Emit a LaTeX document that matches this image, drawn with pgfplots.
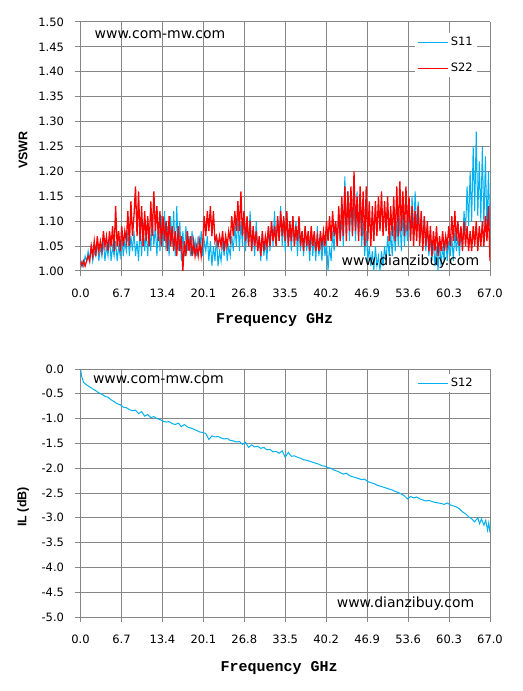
\documentclass[border=0pt]{standalone}
\usepackage{pgfplots}
\pgfplotsset{compat=1.18}
\usepackage{pgfplotstable}
\usepackage{fontspec}
\setmainfont{DejaVu Sans}
\newfontfamily\monob{Liberation Mono}
\newfontfamily\labf{Liberation Sans}
\definecolor{sblue}{RGB}{0,176,240}
\definecolor{sred}{RGB}{255,0,0}
\definecolor{gridg}{RGB}{134,134,134}

\pgfplotstableread{
x s11 s22
0.00 1.01 1.02
0.25 1.02 1.01
0.50 1.01 1.02
0.75 1.03 1.01
1.00 1.02 1.02
1.25 1.04 1.03
1.50 1.02 1.02
1.75 1.05 1.05
2.00 1.02 1.03
2.25 1.04 1.06
2.50 1.03 1.03
2.75 1.06 1.07
3.00 1.02 1.04
3.25 1.05 1.06
3.50 1.03 1.04
3.75 1.06 1.08
4.00 1.02 1.05
4.25 1.05 1.07
4.50 1.03 1.04
4.75 1.07 1.08
5.00 1.02 1.05
5.25 1.05 1.09
5.50 1.03 1.04
5.75 1.06 1.13
6.00 1.02 1.05
6.25 1.05 1.08
6.50 1.03 1.04
6.75 1.07 1.09
7.00 1.03 1.05
7.25 1.06 1.08
7.50 1.04 1.06
7.75 1.08 1.12
8.00 1.03 1.05
8.25 1.07 1.14
8.50 1.04 1.07
8.75 1.08 1.11
9.00 1.03 1.17
9.25 1.06 1.07
9.50 1.02 1.16
9.75 1.09 1.06
10.00 1.03 1.13
10.25 1.10 1.05
10.50 1.04 1.12
10.75 1.08 1.06
11.00 1.03 1.11
11.25 1.09 1.05
11.50 1.04 1.14
11.75 1.11 1.07
12.00 1.05 1.16
12.25 1.09 1.08
12.50 1.03 1.13
12.75 1.10 1.06
13.00 1.04 1.12
13.25 1.11 1.05
13.50 1.05 1.11
13.75 1.12 1.06
14.00 1.04 1.10
14.25 1.09 1.04
14.50 1.03 1.11
14.75 1.11 1.05
15.00 1.05 1.09
15.25 1.12 1.04
15.50 1.03 1.08
15.75 1.13 1.03
16.00 1.04 1.09
16.25 1.10 1.04
16.50 1.02 1.07
16.75 1.08 1.00
17.00 1.03 1.06
17.25 1.09 1.03
17.50 1.04 1.08
17.75 1.07 1.04
18.00 1.03 1.07
18.25 1.08 1.03
18.50 1.04 1.06
18.75 1.06 1.03
19.00 1.03 1.05
19.25 1.07 1.03
19.50 1.04 1.06
19.75 1.08 1.03
20.00 1.03 1.06
20.25 1.06 1.11
20.50 1.04 1.07
20.75 1.07 1.12
21.00 1.02 1.08
21.25 1.06 1.13
21.50 1.01 1.07
21.75 1.05 1.12
22.00 1.02 1.06
22.25 1.07 1.07
22.50 1.01 1.05
22.75 1.04 1.07
23.00 1.02 1.05
23.25 1.06 1.08
23.50 1.03 1.04
23.75 1.07 1.07
24.00 1.02 1.05
24.25 1.05 1.08
24.50 1.03 1.06
24.75 1.07 1.11
25.00 1.04 1.07
25.25 1.09 1.12
25.50 1.05 1.08
25.75 1.11 1.14
26.00 1.04 1.08
26.25 1.10 1.16
26.50 1.05 1.07
26.75 1.12 1.12
27.00 1.04 1.06
27.25 1.09 1.11
27.50 1.05 1.05
27.75 1.12 1.10
28.00 1.04 1.04
28.25 1.08 1.09
28.50 1.03 1.05
28.75 1.10 1.08
29.00 1.04 1.04
29.25 1.07 1.07
29.50 1.02 1.03
29.75 1.08 1.08
30.00 1.03 1.04
30.25 1.06 1.07
30.50 1.02 1.05
30.75 1.09 1.09
31.00 1.04 1.05
31.25 1.10 1.10
31.50 1.05 1.06
31.75 1.12 1.09
32.00 1.05 1.05
32.25 1.11 1.11
32.50 1.06 1.06
32.75 1.13 1.12
33.00 1.05 1.07
33.25 1.10 1.11
33.50 1.04 1.06
33.75 1.12 1.12
34.00 1.05 1.05
34.25 1.09 1.10
34.50 1.04 1.06
34.75 1.11 1.11
35.00 1.05 1.05
35.25 1.10 1.09
35.50 1.03 1.06
35.75 1.09 1.11
36.00 1.04 1.05
36.25 1.08 1.08
36.50 1.03 1.04
36.75 1.09 1.09
37.00 1.04 1.05
37.25 1.07 1.08
37.50 1.02 1.04
37.75 1.08 1.09
38.00 1.03 1.05
38.25 1.07 1.08
38.50 1.02 1.04
38.75 1.09 1.07
39.00 1.03 1.04
39.25 1.06 1.08
39.50 1.02 1.05
39.75 1.07 1.08
40.00 1.03 1.05
40.25 1.06 1.10
40.50 1.00 1.06
40.75 1.05 1.11
41.00 1.02 1.06
41.25 1.08 1.12
41.50 1.04 1.07
41.75 1.10 1.10
42.00 1.05 1.05
42.25 1.12 1.13
42.50 1.06 1.06
42.75 1.11 1.15
43.00 1.05 1.07
43.25 1.19 1.17
43.50 1.07 1.06
43.75 1.16 1.16
44.00 1.06 1.08
44.25 1.15 1.17
44.50 1.07 1.07
44.75 1.14 1.20
45.00 1.06 1.08
45.25 1.16 1.15
45.50 1.07 1.06
45.75 1.13 1.17
46.00 1.05 1.07
46.25 1.10 1.16
46.50 1.03 1.05
46.75 1.08 1.17
47.00 1.02 1.06
47.25 1.05 1.14
47.50 1.01 1.05
47.75 1.04 1.13
48.00 1.00 1.06
48.25 1.05 1.14
48.50 1.01 1.07
48.75 1.03 1.15
49.00 1.00 1.08
49.25 1.04 1.16
49.50 1.01 1.07
49.75 1.05 1.14
50.00 1.02 1.08
50.25 1.07 1.15
50.50 1.03 1.06
50.75 1.08 1.13
51.00 1.03 1.07
51.25 1.09 1.15
51.50 1.04 1.06
51.75 1.10 1.17
52.00 1.05 1.07
52.25 1.11 1.18
52.50 1.04 1.08
52.75 1.12 1.16
53.00 1.05 1.07
53.25 1.10 1.17
53.50 1.06 1.08
53.75 1.13 1.15
54.00 1.06 1.06
54.25 1.15 1.13
54.50 1.07 1.05
54.75 1.16 1.12
55.00 1.08 1.06
55.25 1.14 1.13
55.50 1.06 1.05
55.75 1.12 1.12
56.00 1.05 1.04
56.25 1.11 1.11
56.50 1.04 1.05
56.75 1.09 1.10
57.00 1.03 1.04
57.25 1.07 1.09
57.50 1.02 1.03
57.75 1.06 1.08
58.00 1.01 1.04
58.25 1.05 1.09
58.50 1.00 1.03
58.75 1.06 1.07
59.00 1.01 1.04
59.25 1.05 1.08
59.50 1.02 1.04
59.75 1.07 1.07
60.00 1.02 1.05
60.25 1.06 1.09
60.50 1.03 1.05
60.75 1.07 1.11
61.00 1.02 1.06
61.25 1.08 1.12
61.50 1.04 1.06
61.75 1.07 1.10
62.00 1.03 1.05
62.25 1.08 1.09
62.50 1.05 1.04
62.75 1.12 1.10
63.00 1.08 1.05
63.25 1.17 1.09
63.50 1.09 1.04
63.75 1.20 1.08
64.00 1.10 1.04
64.25 1.25 1.09
64.50 1.12 1.05
64.75 1.28 1.10
65.00 1.11 1.04
65.25 1.22 1.09
65.50 1.10 1.05
65.75 1.25 1.10
66.00 1.09 1.05
66.25 1.23 1.11
66.50 1.08 1.06
66.75 1.20 1.13
67.00 1.07 1.02
}\vswr

\pgfplotstableread{
x s12
0.0 0.00
0.2 -0.15
0.5 -0.27
1.0 -0.32
1.5 -0.36
2.0 -0.40
2.5 -0.44
3.0 -0.48
3.5 -0.51
4.0 -0.55
4.5 -0.57
5.0 -0.62
5.5 -0.66
6.0 -0.70
6.5 -0.72
7.0 -0.77
7.5 -0.78
8.0 -0.82
8.5 -0.84
9.0 -0.83
9.5 -0.90
10.0 -0.86
10.5 -0.95
11.0 -0.92
11.5 -0.98
12.0 -0.96
12.5 -1.00
13.0 -1.02
13.5 -1.05
14.0 -1.07
14.5 -1.06
15.0 -1.10
15.5 -1.12
16.0 -1.09
16.5 -1.16
17.0 -1.12
17.5 -1.17
18.0 -1.19
18.5 -1.21
19.0 -1.24
19.5 -1.27
20.0 -1.28
20.5 -1.30
21.0 -1.42
21.5 -1.35
22.0 -1.37
22.5 -1.36
23.0 -1.39
23.5 -1.41
24.0 -1.40
24.5 -1.44
25.0 -1.45
25.5 -1.47
26.0 -1.46
26.5 -1.52
27.0 -1.48
27.5 -1.58
28.0 -1.53
28.5 -1.57
29.0 -1.56
29.5 -1.60
30.0 -1.58
30.5 -1.63
31.0 -1.62
31.5 -1.67
32.0 -1.66
32.5 -1.70
33.0 -1.65
33.5 -1.78
34.0 -1.68
34.5 -1.76
35.0 -1.75
35.5 -1.78
36.0 -1.80
36.5 -1.83
37.0 -1.84
37.5 -1.86
38.0 -1.88
38.5 -1.90
39.0 -1.92
39.5 -1.95
40.0 -1.96
40.5 -1.99
41.0 -2.00
41.5 -2.04
42.0 -2.06
42.5 -2.09
43.0 -2.12
43.5 -2.10
44.0 -2.15
44.5 -2.17
45.0 -2.19
45.5 -2.21
46.0 -2.23
46.5 -2.22
47.0 -2.27
47.5 -2.29
48.0 -2.31
48.5 -2.34
49.0 -2.36
49.5 -2.38
50.0 -2.40
50.5 -2.42
51.0 -2.44
51.5 -2.47
52.0 -2.49
52.5 -2.52
53.0 -2.56
53.5 -2.62
54.0 -2.57
54.5 -2.60
55.0 -2.58
55.5 -2.62
56.0 -2.64
56.5 -2.66
57.0 -2.65
57.5 -2.67
58.0 -2.69
58.5 -2.70
59.0 -2.71
59.5 -2.73
60.0 -2.70
60.5 -2.74
61.0 -2.76
61.5 -2.78
62.0 -2.82
62.5 -2.88
63.0 -2.92
63.5 -2.98
64.0 -3.02
64.5 -3.08
65.0 -3.00
65.3 -3.12
65.6 -3.02
66.0 -3.15
66.3 -3.05
66.6 -3.25
66.8 -3.10
67.0 -3.30
}\ilt

\pgfplotsset{
  common/.style={
    scale only axis, width=409.5bp,
    xmin=0, xmax=67,
    xtick={0,6.7,13.4,20.1,26.8,33.5,40.2,46.9,53.6,60.3,67},
    xticklabels={0.0,6.7,13.4,20.1,26.8,33.5,40.2,46.9,53.6,60.3,67.0},
    axis x line*=bottom, axis y line*=left,
    axis line style={gridg, line width=1bp, -},
    grid=major, grid style={gridg, line width=1bp},
    tick style={gridg, line width=1bp},
    tick align=outside, major tick length=5bp,
    ticklabel style={font=\fontsize{11.5bp}{13bp}\selectfont, text=black},
    xticklabel shift=9bp, yticklabel shift=8bp,
    xlabel={Frequency GHz},
    xlabel style={font=\monob\bfseries\fontsize{15bp}{17bp}\selectfont, anchor=center},
    ylabel style={font=\labf\bfseries\fontsize{12.5bp}{14bp}\selectfont, anchor=center},
    legend cell align=left,
    legend image code/.code={\draw[#1] (0bp,0bp) -- (30bp,0bp);},
    legend style={draw=none, fill=white, font=\fontsize{11.5bp}{13bp}\selectfont,
      inner sep=2bp, row sep=12bp},
  }
}

\begin{document}
\begin{tikzpicture}
\path[use as bounding box] (0,0) rectangle (523bp,691bp);

\begin{axis}[common,
  at={(80.5bp,420bp)}, anchor=south west,
  height=249bp,
  ymin=1, ymax=1.5,
  ytick={1,1.05,1.1,1.15,1.2,1.25,1.3,1.35,1.4,1.45,1.5},
  yticklabels={1.00,1.05,1.10,1.15,1.20,1.25,1.30,1.35,1.40,1.45,1.50},
  ylabel={VSWR},
  ylabel style={at={(axis description cs:-0.14,0.486)}},
  xlabel style={at={(axis description cs:0.474,-0.196)}},
  legend style={at={(axis description cs:0.968,0.955)}, anchor=north east},
]
\addplot[color=sblue, line width=1bp] table[x=x, y=s11] {\vswr};
\addlegendentry{S11}
\addplot[color=sred, line width=1.3bp] table[x=x, y=s22] {\vswr};
\addlegendentry{S22}
\node[anchor=west, font=\fontsize{14bp}{16bp}\selectfont] at (axis description cs:0.026,0.948) {www.com-mw.com};
\node[anchor=east, font=\fontsize{14bp}{16bp}\selectfont] at (axis description cs:0.982,0.036) {www.dianzibuy.com};
\end{axis}

\begin{axis}[common,
  at={(80.5bp,74bp)}, anchor=south west,
  height=248bp,
  ymin=-5, ymax=0,
  ytick={-5,-4.5,-4,-3.5,-3,-2.5,-2,-1.5,-1,-0.5,0},
  yticklabels={-5.0,-4.5,-4.0,-3.5,-3.0,-2.5,-2.0,-1.5,-1.0,-0.5,0.0},
  ylabel={IL (dB)},
  ylabel style={at={(axis description cs:-0.14,0.444)}},
  xlabel style={at={(axis description cs:0.485,-0.206)}},
  legend style={at={(axis description cs:0.968,0.98)}, anchor=north east},
]
\addplot[color=sblue, line width=1bp] table[x=x, y=s12] {\ilt};
\addlegendentry{S12}
\node[anchor=west, font=\fontsize{14bp}{16bp}\selectfont] at (axis description cs:0.022,0.956) {www.com-mw.com};
\node[anchor=east, font=\fontsize{14bp}{16bp}\selectfont] at (axis description cs:0.97,0.052) {www.dianzibuy.com};
\end{axis}
\end{tikzpicture}
\end{document}
